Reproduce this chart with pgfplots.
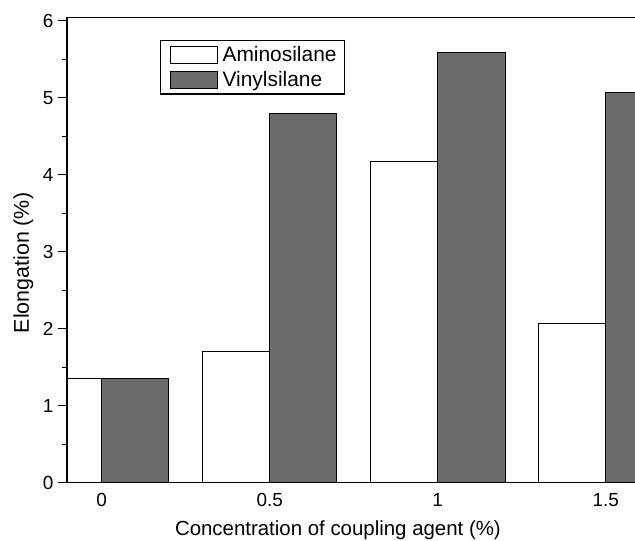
\documentclass[border=0pt]{standalone}
\usepackage{fontspec}
\setmainfont{Liberation Sans}
\usepackage{pgfplots}
\pgfplotsset{compat=1.18}
\definecolor{darkbar}{HTML}{6B6B6B}
\pgfplotsset{mylegend/.style={legend image code/.code={\path[draw=none,fill=none] (0bp,0bp) -- (54bp,0bp);\draw[##1] (5bp,-8.5bp) rectangle (52bp,8.5bp);}}}
\begin{document}
\begin{tikzpicture}
\begin{axis}[
  scale only axis, width=568bp, height=465.4bp,
  xmin=-0.2065, xmax=3.174, ymin=0, ymax=6.044,
  axis line style={draw=none},
  xtick={0,1,2,3}, xticklabels={0,0.5,1,1.5},
  major x tick style={draw=none},
  ytick={0,1,2,3,4,5,6}, minor ytick={0.5,1.5,2.5,3.5,4.5,5.5},
  tick align=outside,
  ytick pos=left, xtick pos=bottom,
  major tick length=9bp, minor tick length=5bp,
  y tick style={black, line width=1bp},
  tick label style={font=\fontsize{19}{22}\selectfont},
  yticklabel style={xshift=-1bp},
  xticklabel style={yshift=2bp},
  /pgf/number format/assume math mode=true,
  xlabel={Concentration of coupling agent (\%)},
  ylabel={Elongation (\%)},
  xlabel style={at={(axis description cs:0.477,-0.1138)}, anchor=base, font=\fontsize{20.5}{24}\selectfont},
  ylabel style={at={(axis description cs:-0.0770,0.472)}, anchor=center, font=\fontsize{21.5}{25}\selectfont},
  legend style={at={(axis description cs:0.1637,0.9512)}, anchor=north west,
    draw=black, line width=1.2bp, inner xsep=5bp, inner ysep=5bp,
    font=\fontsize{21}{24}\selectfont, row sep=6bp,
    nodes={inner xsep=3bp, inner ysep=1bp}},
  legend cell align=left,
]
\addplot[ybar, bar width=0.4, bar shift=-0.2, fill=white, draw=black, line width=0.9bp, mylegend]
  coordinates {(0,1.35) (1,1.70) (2,4.17) (3,2.07)};
\addlegendentry{Aminosilane}
\addplot[ybar, bar width=0.4, bar shift=0.2, fill=darkbar, draw=black, line width=0.9bp, mylegend]
  coordinates {(0,1.35) (1,4.80) (2,5.59) (3,5.07)};
\addlegendentry{Vinylsilane}
\end{axis}
\draw[black, line width=1.3bp] (568bp,465.4bp) -- (0,465.4bp) -- (0,0) -- (568bp,0);
\pgfresetboundingbox
\path (-67bp,-58.3bp) rectangle (568bp,482.7bp);
\end{tikzpicture}
\end{document}
